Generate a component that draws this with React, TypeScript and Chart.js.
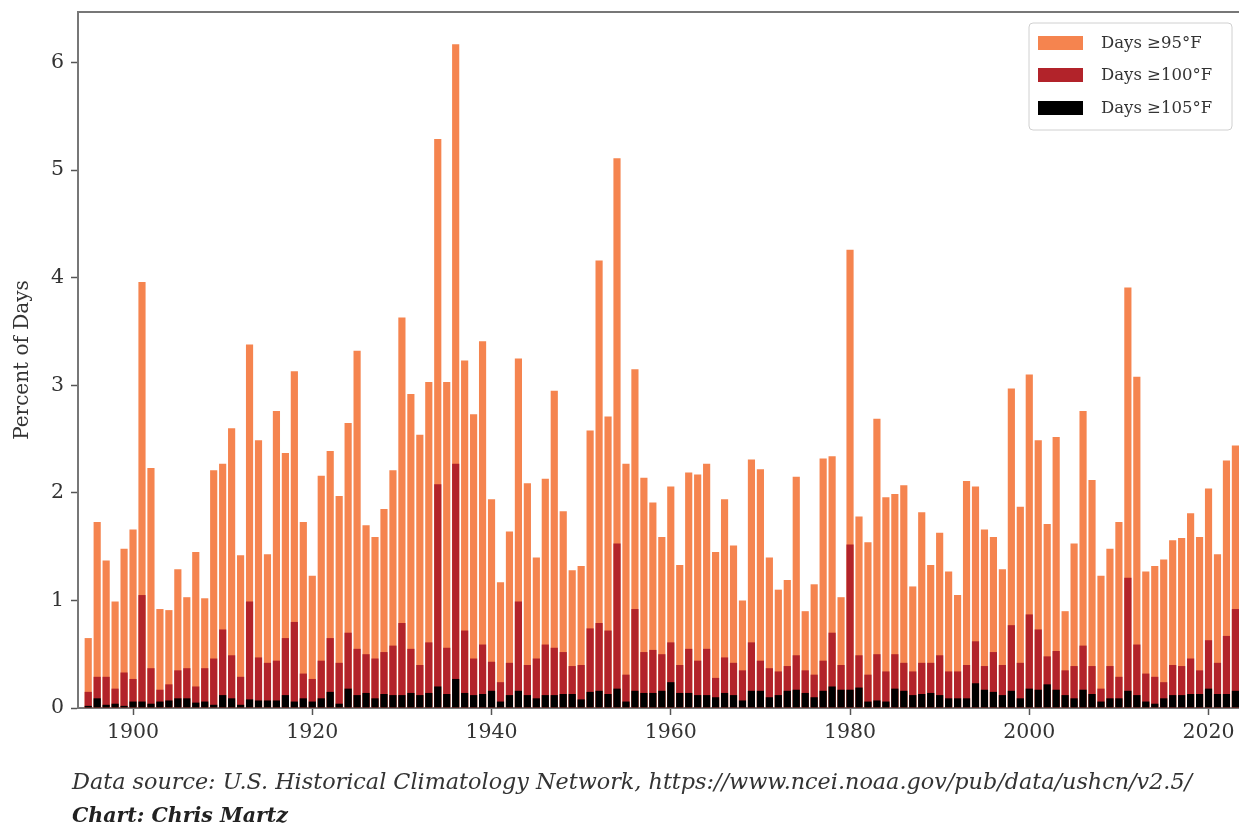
import React, { useEffect, useRef } from "react";
import { Chart, registerables } from "chart.js";

Chart.register(...registerables);

const FIRST_YEAR = 1895;

// Percent of days at or above 95°F (1895–2023)
const days95 = [
  0.65, 1.73, 1.37, 0.99, 1.48,
  1.66, 3.96, 2.23, 0.92, 0.91, 1.29, 1.03, 1.45, 1.02, 2.21,
  2.27, 2.6, 1.42, 3.38, 2.49, 1.43, 2.76, 2.37, 3.13, 1.73,
  1.23, 2.16, 2.39, 1.97, 2.65, 3.32, 1.7, 1.59, 1.85, 2.21,
  3.63, 2.92, 2.54, 3.03, 5.29, 3.03, 6.17, 3.23, 2.73, 3.41,
  1.94, 1.17, 1.64, 3.25, 2.09, 1.4, 2.13, 2.95, 1.83, 1.28,
  1.32, 2.58, 4.16, 2.71, 5.11, 2.27, 3.15, 2.14, 1.91, 1.59,
  2.06, 1.33, 2.19, 2.17, 2.27, 1.45, 1.94, 1.51, 1.0, 2.31,
  2.22, 1.4, 1.1, 1.19, 2.15, 0.9, 1.15, 2.32, 2.34, 1.03,
  4.26, 1.78, 1.54, 2.69, 1.96, 1.99, 2.07, 1.13, 1.82, 1.33,
  1.63, 1.27, 1.05, 2.11, 2.06, 1.66, 1.59, 1.29, 2.97, 1.87,
  3.1, 2.49, 1.71, 2.52, 0.9, 1.53, 2.76, 2.12, 1.23, 1.48,
  1.73, 3.91, 3.08, 1.27, 1.32, 1.38, 1.56, 1.58, 1.81, 1.59,
  2.04, 1.43, 2.3, 2.44,
];

// Percent of days at or above 100°F
const days100 = [
  0.15, 0.29, 0.29, 0.18, 0.33,
  0.27, 1.05, 0.37, 0.17, 0.22, 0.35, 0.37, 0.2, 0.37, 0.46,
  0.73, 0.49, 0.29, 0.99, 0.47, 0.42, 0.44, 0.65, 0.8, 0.32,
  0.27, 0.44, 0.65, 0.42, 0.7, 0.55, 0.5, 0.46, 0.52, 0.58,
  0.79, 0.55, 0.4, 0.61, 2.08, 0.56, 2.27, 0.72, 0.46, 0.59,
  0.43, 0.24, 0.42, 0.99, 0.4, 0.46, 0.59, 0.56, 0.52, 0.39,
  0.4, 0.74, 0.79, 0.72, 1.53, 0.31, 0.92, 0.52, 0.54, 0.5,
  0.61, 0.4, 0.55, 0.44, 0.55, 0.28, 0.47, 0.42, 0.35, 0.61,
  0.44, 0.37, 0.34, 0.39, 0.49, 0.35, 0.31, 0.44, 0.7, 0.4,
  1.52, 0.49, 0.31, 0.5, 0.34, 0.5, 0.42, 0.34, 0.42, 0.42,
  0.49, 0.34, 0.34, 0.4, 0.62, 0.39, 0.52, 0.4, 0.77, 0.42,
  0.87, 0.73, 0.48, 0.53, 0.35, 0.39, 0.58, 0.39, 0.18, 0.39,
  0.29, 1.21, 0.59, 0.32, 0.29, 0.24, 0.4, 0.39, 0.46, 0.35,
  0.63, 0.42, 0.67, 0.92,
];

// Percent of days at or above 105°F
const days105 = [
  0.02, 0.09, 0.03, 0.04, 0.02,
  0.06, 0.06, 0.04, 0.06, 0.07, 0.09, 0.09, 0.05, 0.06, 0.03,
  0.12, 0.09, 0.03, 0.08, 0.07, 0.07, 0.07, 0.12, 0.06, 0.09,
  0.06, 0.09, 0.15, 0.04, 0.18, 0.12, 0.14, 0.09, 0.13, 0.12,
  0.12, 0.14, 0.12, 0.14, 0.2, 0.13, 0.27, 0.14, 0.12, 0.13,
  0.16, 0.06, 0.12, 0.16, 0.12, 0.09, 0.12, 0.12, 0.13, 0.13,
  0.08, 0.15, 0.16, 0.13, 0.18, 0.06, 0.16, 0.14, 0.14, 0.16,
  0.24, 0.14, 0.14, 0.12, 0.12, 0.1, 0.14, 0.12, 0.07, 0.16,
  0.16, 0.1, 0.12, 0.16, 0.17, 0.14, 0.1, 0.16, 0.2, 0.17,
  0.17, 0.19, 0.06, 0.07, 0.06, 0.18, 0.16, 0.12, 0.13, 0.14,
  0.12, 0.09, 0.09, 0.09, 0.23, 0.17, 0.15, 0.12, 0.16, 0.09,
  0.18, 0.17, 0.22, 0.17, 0.12, 0.09, 0.17, 0.13, 0.06, 0.09,
  0.09, 0.16, 0.12, 0.06, 0.04, 0.09, 0.12, 0.12, 0.13, 0.13,
  0.18, 0.13, 0.13, 0.16,
];

const years = days95.map((_, i) => FIRST_YEAR + i);
const xTickYears = [1900, 1920, 1940, 1960, 1980, 2000, 2020];
const yTickValues = [0, 1, 2, 3, 4, 5, 6];
const seriesLabels = ["Days ≥95°F", "Days ≥100°F", "Days ≥105°F"];
const seriesColors = ["#F5844F", "#B2232A", "#000000"];
const yAxisTitle = "Percent of Days";
const sourceText =
  "Data source: U.S. Historical Climatology Network, https://www.ncei.noaa.gov/pub/data/ushcn/v2.5/";
const creditText = "Chart: Chris Martz";

const SERIF = '"DejaVu Serif", serif';
const W = 1239;
const H = 827;

const toPoints = (vals: number[]) => vals.map((v, i) => ({ x: years[i], y: v }));

const framePlugin = {
  id: "frameAndLegend",
  afterDraw(chart: any) {
    const { ctx, chartArea } = chart;
    ctx.save();
    // top spine
    ctx.strokeStyle = "#777";
    ctx.lineWidth = 2;
    ctx.beginPath();
    ctx.moveTo(chartArea.left - 1, chartArea.top);
    ctx.lineTo(chartArea.right, chartArea.top);
    ctx.stroke();

    // legend box
    const bx = 1029, by = 23, bw = 203, bh = 107, r = 4;
    ctx.fillStyle = "rgba(255,255,255,0.85)";
    ctx.strokeStyle = "#d0d0d0";
    ctx.lineWidth = 1;
    ctx.beginPath();
    ctx.moveTo(bx + r, by);
    ctx.lineTo(bx + bw - r, by);
    ctx.quadraticCurveTo(bx + bw, by, bx + bw, by + r);
    ctx.lineTo(bx + bw, by + bh - r);
    ctx.quadraticCurveTo(bx + bw, by + bh, bx + bw - r, by + bh);
    ctx.lineTo(bx + r, by + bh);
    ctx.quadraticCurveTo(bx, by + bh, bx, by + bh - r);
    ctx.lineTo(bx, by + r);
    ctx.quadraticCurveTo(bx, by, bx + r, by);
    ctx.closePath();
    ctx.fill();
    ctx.stroke();

    const rowsY = [43, 75, 108];
    ctx.font = `16.5px ${SERIF}`;
    ctx.textBaseline = "middle";
    ctx.textAlign = "left";
    seriesLabels.forEach((label, i) => {
      ctx.fillStyle = seriesColors[i];
      ctx.fillRect(1038, rowsY[i] - 7, 45, 14);
      ctx.fillStyle = "#333";
      ctx.fillText(label, 1101, rowsY[i] + 1);
    });
    ctx.restore();
  },
};

export default function App() {
  const canvasRef = useRef<HTMLCanvasElement | null>(null);

  useEffect(() => {
    if (!canvasRef.current) return;
    const chart = new Chart(canvasRef.current, {
      type: "bar",
      data: {
        datasets: [
          { label: seriesLabels[0], data: toPoints(days95), backgroundColor: seriesColors[0], order: 3 },
          { label: seriesLabels[1], data: toPoints(days100), backgroundColor: seriesColors[1], order: 2 },
          { label: seriesLabels[2], data: toPoints(days105), backgroundColor: seriesColors[2], order: 1 },
        ] as any,
      },
      options: {
        animation: false,
        responsive: false,
        datasets: {
          bar: { grouped: false, barPercentage: 0.8, categoryPercentage: 1.0 },
        } as any,
        layout: { padding: { top: 12, left: 0, right: 0, bottom: 0 } },
        plugins: {
          legend: { display: false },
          tooltip: { enabled: false },
        },
        scales: {
          x: {
            type: "linear",
            min: 1893.86,
            max: 2023.4,
            offset: false,
            afterBuildTicks: (s: any) => {
              s.ticks = xTickYears.map((v) => ({ value: v }));
            },
            afterFit: (s: any) => {
              s.height = 119;
              s.paddingLeft = 0;
              s.paddingRight = 0;
            },
            ticks: {
              callback: (v: any) => String(v),
              font: { family: SERIF, size: 20.5 },
              color: "#333",
              padding: 5,
              maxRotation: 0,
              autoSkip: false,
            },
            grid: {
              display: true,
              drawOnChartArea: false,
              drawTicks: true,
              tickLength: 7,
              tickColor: "#555",
              tickWidth: 1.5,
              offset: false,
            },
            border: { display: true, color: "#777", width: 2 },
          },
          y: {
            min: 0,
            max: 6.47,
            afterBuildTicks: (s: any) => {
              s.ticks = yTickValues.map((v) => ({ value: v }));
            },
            afterFit: (s: any) => {
              s.width = 78;
              s.paddingTop = 0;
              s.paddingBottom = 0;
            },
            ticks: {
              callback: (v: any) => String(v),
              font: { family: SERIF, size: 20.5 },
              color: "#333",
              padding: 7,
            },
            grid: {
              display: true,
              drawOnChartArea: false,
              drawTicks: true,
              tickLength: 7,
              tickColor: "#555",
              tickWidth: 1.5,
            },
            border: { display: true, color: "#777", width: 2 },
            title: {
              display: true,
              text: yAxisTitle,
              font: { family: SERIF, size: 20 },
              color: "#333",
              padding: { top: 11, bottom: 0 },
            },
          },
        },
      } as any,
      plugins: [framePlugin],
    });
    return () => chart.destroy();
  }, []);

  return (
    <div style={{ position: "absolute", left: 0, top: 0, width: W, height: H, background: "#fff", overflow: "hidden" }}>
      <canvas ref={canvasRef} width={W} height={H} style={{ display: "block", width: W, height: H }} />
      <div
        style={{
          position: "absolute",
          left: 72,
          top: 767,
          fontFamily: SERIF,
          fontStyle: "italic",
          fontSize: 22.3,
          lineHeight: "28px",
          color: "#333",
          whiteSpace: "nowrap",
        }}
      >
        {sourceText}
      </div>
      <div
        style={{
          position: "absolute",
          left: 72,
          top: 801,
          fontFamily: SERIF,
          fontStyle: "italic",
          fontWeight: "bold",
          fontSize: 20.5,
          lineHeight: "28px",
          color: "#222",
          whiteSpace: "nowrap",
        }}
      >
        {creditText}
      </div>
    </div>
  );
}
